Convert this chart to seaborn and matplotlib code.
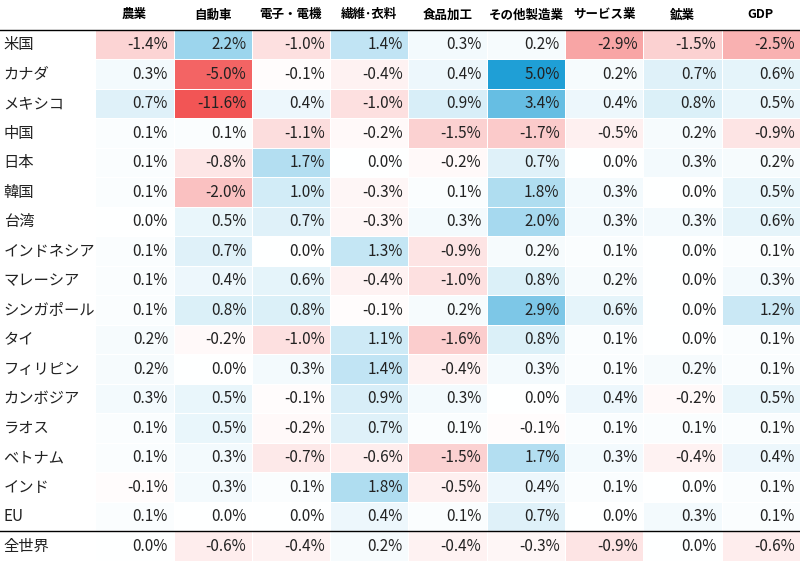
import numpy as np
import pandas as pd
import matplotlib
matplotlib.use("Agg")
import matplotlib.pyplot as plt
from matplotlib.colors import LinearSegmentedColormap
import seaborn as sns

plt.rcParams["font.family"] = "Noto Sans CJK JP"

rows = ["米国", "カナダ", "メキシコ", "中国", "日本", "韓国", "台湾", "インドネシア", "マレーシア",
        "シンガポール", "タイ", "フィリピン", "カンボジア", "ラオス", "ベトナム", "インド", "EU", "全世界"]
cols = ["農業", "自動車", "電子・電機", "繊維･衣料", "食品加工", "その他製造業", "サービス業", "鉱業", "GDP"]

v_us = [-1.4, 2.2, -1.0, 1.4, 0.3, 0.2, -2.9, -1.5, -2.5]
v_ca = [0.3, -5.0, -0.1, -0.4, 0.4, 5.0, 0.2, 0.7, 0.6]
v_mx = [0.7, -11.6, 0.4, -1.0, 0.9, 3.4, 0.4, 0.8, 0.5]
v_cn = [0.1, 0.1, -1.1, -0.2, -1.5, -1.7, -0.5, 0.2, -0.9]
v_jp = [0.1, -0.8, 1.7, 0.0, -0.2, 0.7, 0.0, 0.3, 0.2]
v_kr = [0.1, -2.0, 1.0, -0.3, 0.1, 1.8, 0.3, 0.0, 0.5]
v_tw = [0.0, 0.5, 0.7, -0.3, 0.3, 2.0, 0.3, 0.3, 0.6]
v_id = [0.1, 0.7, 0.0, 1.3, -0.9, 0.2, 0.1, 0.0, 0.1]
v_my = [0.1, 0.4, 0.6, -0.4, -1.0, 0.8, 0.2, 0.0, 0.3]
v_sg = [0.1, 0.8, 0.8, -0.1, 0.2, 2.9, 0.6, 0.0, 1.2]
v_th = [0.2, -0.2, -1.0, 1.1, -1.6, 0.8, 0.1, 0.0, 0.1]
v_ph = [0.2, 0.0, 0.3, 1.4, -0.4, 0.3, 0.1, 0.2, 0.1]
v_kh = [0.3, 0.5, -0.1, 0.9, 0.3, 0.0, 0.4, -0.2, 0.5]
v_la = [0.1, 0.5, -0.2, 0.7, 0.1, -0.1, 0.1, 0.1, 0.1]
v_vn = [0.1, 0.3, -0.7, -0.6, -1.5, 1.7, 0.3, -0.4, 0.4]
v_in = [-0.1, 0.3, 0.1, 1.8, -0.5, 0.4, 0.1, 0.0, 0.1]
v_eu = [0.1, 0.0, 0.0, 0.4, 0.1, 0.7, 0.0, 0.3, 0.1]
v_w = [0.0, -0.6, -0.4, 0.2, -0.4, -0.3, -0.9, 0.0, -0.6]

data = np.array([v_us, v_ca, v_mx, v_cn, v_jp, v_kr, v_tw, v_id, v_my, v_sg, v_th, v_ph,
                 v_kh, v_la, v_vn, v_in, v_eu, v_w])
df = pd.DataFrame(data, index=rows, columns=cols)

cmap = LinearSegmentedColormap.from_list("rb", ["#f25555", "#ffffff", "#0a96d2"])

fig = plt.figure(figsize=(8, 5.61), dpi=100)
ax = fig.add_axes([0.119, 0.0, 0.881, 0.947])
sns.heatmap(df, ax=ax, cmap=cmap, vmin=-5.5, vmax=5.5, cbar=False,
            linewidths=0.5, linecolor="white")

for i in range(len(rows)):
    for j in range(len(cols)):
        ax.text(j + 0.93, i + 0.5, f"{data[i, j]:.1f}%", ha="right", va="center",
                fontsize=11, color="#222222")
    ax.text(-1.17, i + 0.5, rows[i], ha="left", va="center", fontsize=11,
            color="#222222", clip_on=False)

ax.set_yticks([])
ax.set_ylabel("")
ax.xaxis.tick_top()
ax.set_xticks(np.arange(len(cols)) + 0.5)
ax.set_xticklabels(cols, fontsize=9, fontweight="bold", rotation=0)
ax.tick_params(axis="x", length=0, pad=6)
ax.axhline(0, color="black", lw=1, xmin=-0.135, clip_on=False)
ax.axhline(17, color="black", lw=1, xmin=-0.135, clip_on=False)

fig.savefig("out.png", dpi=100)
